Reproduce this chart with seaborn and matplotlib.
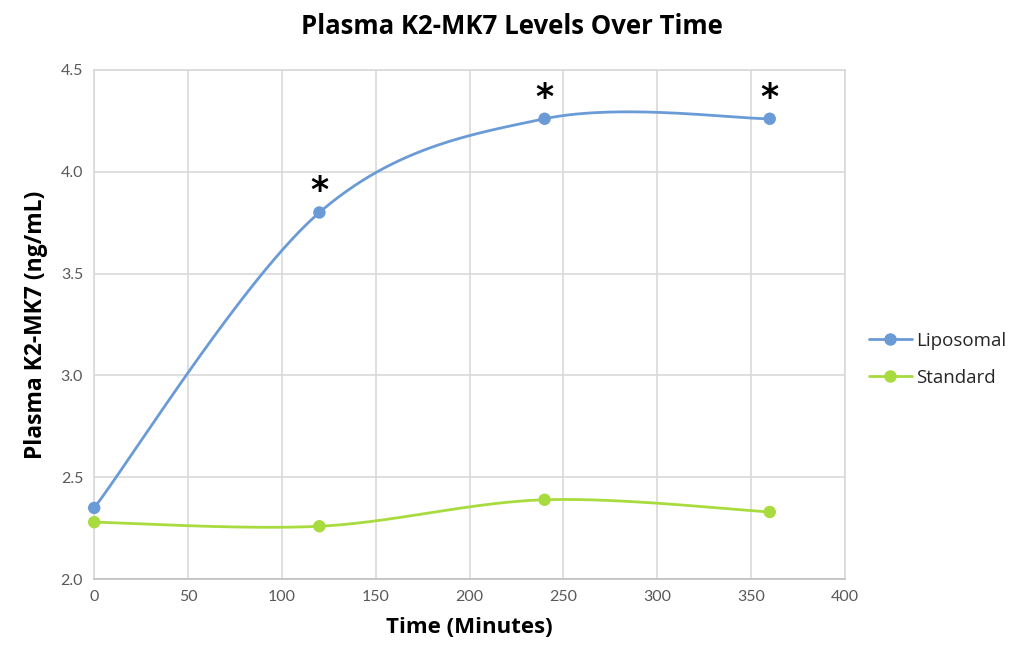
import numpy as np
import pandas as pd
import matplotlib
matplotlib.use('Agg')
import matplotlib.pyplot as plt
from matplotlib.lines import Line2D
import seaborn as sns

# data
time_min = [0, 120, 240, 360]
liposomal = [2.35, 3.80, 4.26, 4.26]
standard = [2.28, 2.26, 2.39, 2.33]
signif_idx = [1, 2, 3]   # points marked with *

blue = '#6b9bd6'
green = '#a8dc3e'

sns.set_theme(style='white')
plt.rcParams['font.family'] = ['Lato', 'DejaVu Sans']

df = pd.DataFrame({'time': time_min * 2,
                   'value': liposomal + standard,
                   'group': ['Liposomal'] * 4 + ['Standard'] * 4})


# Excel style smoothed line: bezier with catmull-rom control points
def smooth(xs, ys, n=60):
    p = np.column_stack([xs, ys]).astype(float)
    p = np.vstack([p[0], p, p[-1]])
    out = []
    for i in range(1, len(p) - 2):
        p0, p1, p2, p3 = p[i - 1], p[i], p[i + 1], p[i + 2]
        c1 = p1 + (p2 - p0) / 6
        c2 = p2 - (p3 - p1) / 6
        t = np.linspace(0, 1, n)[:, None]
        seg = ((1 - t) ** 3 * p1 + 3 * (1 - t) ** 2 * t * c1
               + 3 * (1 - t) * t ** 2 * c2 + t ** 3 * p2)
        out.append(seg)
    out = np.vstack(out)
    return out[:, 0], out[:, 1]


fig = plt.figure(figsize=(10.24, 6.53), dpi=100)
ax = fig.add_axes([0.092, 0.113, 0.733, 0.78])

for ys, c in [(liposomal, blue), (standard, green)]:
    sx, sy = smooth(time_min, ys)
    ax.plot(sx, sy, color=c, lw=2.0, solid_capstyle='round', zorder=3)

sns.scatterplot(data=df, x='time', y='value', hue='group',
                palette={'Liposomal': blue, 'Standard': green},
                s=80, edgecolor='none', ax=ax, legend=False,
                zorder=4, clip_on=False)

for i in signif_idx:
    ax.annotate('*', (time_min[i], liposomal[i]), xytext=(0, 3),
                textcoords='offset points', ha='center', va='bottom',
                fontsize=25, fontweight='bold', color='black',
                family='DejaVu Sans')

ax.set_xlim(0, 400)
ax.set_ylim(2.0, 4.5)
ax.set_xticks(np.arange(0, 401, 50))
ax.set_yticks(np.arange(2.0, 4.51, 0.5))
ax.yaxis.set_major_formatter(matplotlib.ticker.FormatStrFormatter('%.1f'))
ax.grid(True, color='#d9d9d9', lw=1.2)
ax.set_axisbelow(True)
for s in ax.spines.values():
    s.set_color('#d9d9d9')
    s.set_linewidth(1.2)
ax.spines['bottom'].set_color('#bfbfbf')
ax.tick_params(axis='both', length=0, labelsize=11.5, colors='#595959', pad=8)

lab_font = ['Open Sans', 'DejaVu Sans']
ax.set_xlabel('Time (Minutes)', fontsize=16, fontweight='bold', color='black',
              labelpad=9, family=lab_font)
ax.set_ylabel('Plasma K2-MK7 (ng/mL)', fontsize=16.5, fontweight='bold', color='black',
              labelpad=9, family=lab_font)
fig.suptitle('Plasma K2-MK7 Levels Over Time', x=0.5, y=0.98, fontsize=18.5,
             fontweight='bold', color='black', family=lab_font)

handles = [Line2D([], [], color=blue, lw=2, marker='o', ms=8),
           Line2D([], [], color=green, lw=2, marker='o', ms=8)]
fig.legend(handles, ['Liposomal', 'Standard'], loc='center left',
           bbox_to_anchor=(0.832, 0.45), frameon=False,
           prop={'family': lab_font, 'size': 13.5},
           handlelength=2.3, handletextpad=0.2, labelspacing=1.0)

fig.savefig('out.png', dpi=100)
